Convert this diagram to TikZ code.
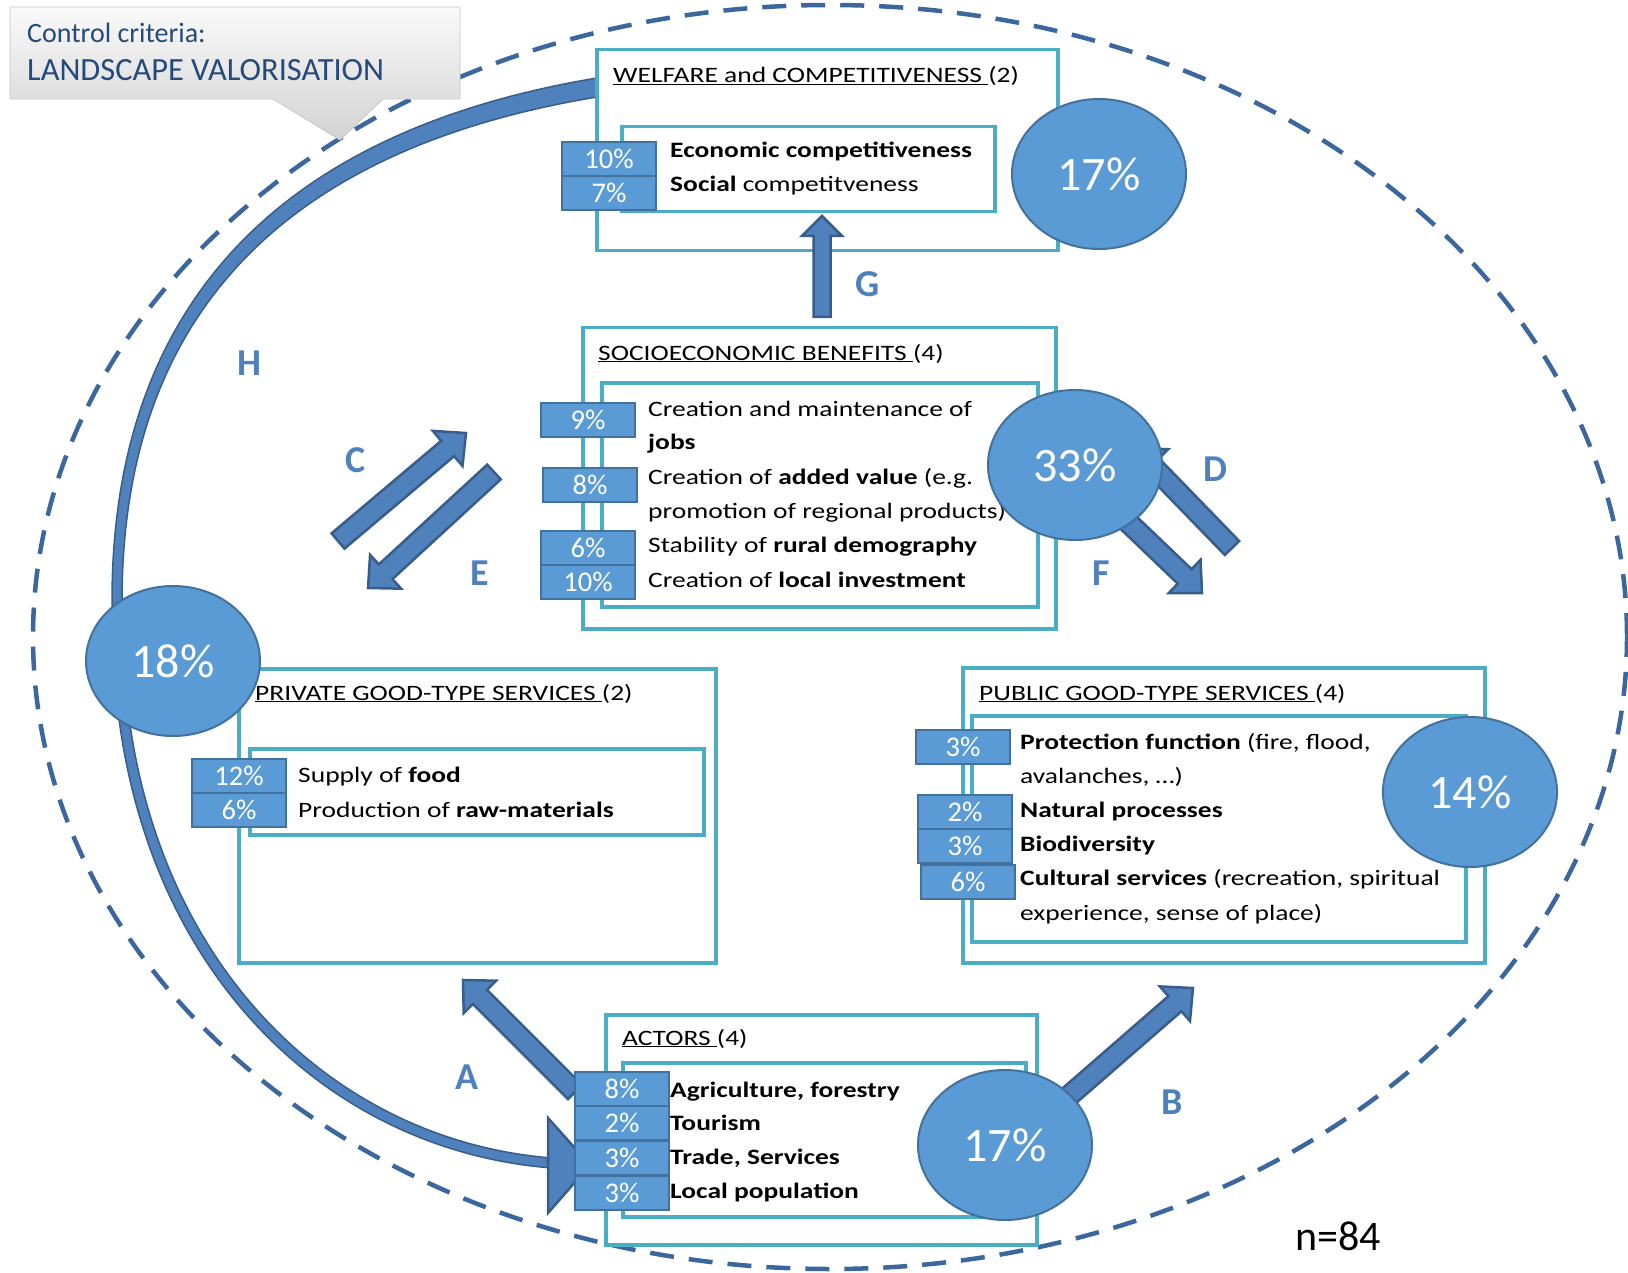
\documentclass[tikz,border=0pt]{standalone}
\usepackage{fontspec}
\setmainfont{Carlito}
\newfontfamily\widefont{Carlito}[FakeStretch=1.25]
\usetikzlibrary{shapes.geometric,calc}

\definecolor{boxline}{HTML}{4BACC6}
\definecolor{pctfill}{HTML}{5B9BD5}
\definecolor{pctline}{HTML}{41719C}
\definecolor{arrowfill}{HTML}{4F81BD}
\definecolor{arrowline}{HTML}{385D8A}
\definecolor{ringblue}{HTML}{3B679E}
\definecolor{calloutblue}{HTML}{244A7C}

% fat arrow: tail, tip, half shaft, half head, head length
\newcommand\fatarrow[5]{%
  \coordinate (neck) at ($(#2)!#5!(#1)$);
  \draw[fatarrow] ($(#1)!#3!90:(#2)$) -- ($(neck)!#3!90:(#2)$) -- ($(neck)!#4!90:(#2)$)
    -- (#2) -- ($(neck)!#4!-90:(#2)$) -- ($(neck)!#3!-90:(#2)$) -- ($(#1)!#3!-90:(#2)$) -- cycle;}

\begin{document}
\begin{tikzpicture}[x=1pt,y=-1pt,
  outerbox/.style={draw=boxline, line width=3.5pt, fill=white, anchor=north west, inner sep=0pt},
  title/.style={anchor=base west, inner sep=0pt, font=\widefont\fontsize{22}{26}\selectfont},
  item/.style={title},
  pct/.style={draw=pctline, line width=2pt, fill=pctfill, text=white, anchor=north west,
    inner sep=0pt, minimum width=94, minimum height=34, font=\fontsize{28.5}{30}\selectfont},
  bubble/.style={ellipse, draw=pctline, line width=2pt, fill=pctfill, text=white,
    minimum width=174, minimum height=150, inner sep=0pt, font=\fontsize{48}{52}\selectfont},
  letter/.style={text=arrowfill, inner sep=0pt, font=\bfseries\fontsize{38}{42}\selectfont},
  fatarrow/.style={draw=arrowline, fill=arrowfill, line width=2.5pt, line join=miter},
  dashring/.style={draw=ringblue, line width=4.5pt, dash pattern=on 24pt off 15pt},
  callout/.style={top color=gray!4, bottom color=gray!35, draw=gray!45, line width=0.8pt},
  callouttext/.style={anchor=base west, inner sep=0pt, text=calloutblue},
]
\useasboundingbox (0,0) rectangle (1628,1273);

% outer ring
\draw[dashring] (830,637) ellipse [x radius=797pt, y radius=632pt];

% control criteria
\path[callout] (10,7) -- (460,7) -- (460,99) -- (383,99) -- (340,140) -- (273,99) -- (10,99) -- cycle;
\node[callouttext, font=\fontsize{28}{30}\selectfont] (crit) at (27,43) {Control criteria:};
\node[callouttext, font=\fontsize{32.4}{35}\selectfont] (valor) at (27,81) {LANDSCAPE VALORISATION};

% H
\coordinate (Hstart) at (597,88);
\coordinate (Hend) at (552,1163);
\draw[fatarrow, line width=1.5pt] ($(Hstart)+(0,-10)$) .. controls (255,135) and (98,330) .. (113,640)
  .. controls (120,955) and (318,1150) .. ($(Hend)+(0,5)$) -- ($(Hend)+(0,-5)$)
  .. controls (322,1140) and (130,945) .. (123,640)
  .. controls (108,335) and (265,152) .. ($(Hstart)+(0,9)$) -- cycle;
\draw[fatarrow] (Hend) ++(-4,-45) -- ++(42,47) -- ++(-42,48) -- cycle;

% boxes
\node[outerbox, minimum width=461, minimum height=201] (welfare) at (595,48) {};
\node[outerbox, minimum width=373, minimum height=85] (welfarein) at (620,125) {};
\node[outerbox, minimum width=473, minimum height=301] (socio) at (581,326) {};
\node[outerbox, minimum width=436, minimum height=224] (socioin) at (600,381) {};
\node[outerbox, minimum width=477, minimum height=294] (private) at (237,667) {};
\node[outerbox, minimum width=454, minimum height=86] (privatein) at (248,747) {};
\node[outerbox, minimum width=522, minimum height=295] (public) at (961,666) {};
\node[outerbox, minimum width=494, minimum height=226] (publicin) at (970,714) {};
\node[outerbox, minimum width=431, minimum height=230] (actors) at (604,1013) {};
\node[outerbox, minimum width=403, minimum height=154] (actorsin) at (621,1061) {};

% titles
\node[title] (welfaretitle) at (613,83) {\underline{WELFARE and COMPETITIVENESS\ }(2)};
\node[title] (sociotitle) at (598,360) {\underline{SOCIOECONOMIC BENEFITS\ }(4)};
\node[title] (privatetitle) at (255,700) {\underline{PRIVATE GOOD-TYPE SERVICES\ }(2)};
\node[title] (publictitle) at (979,700) {\underline{PUBLIC GOOD-TYPE SERVICES\ }(4)};
\node[title] (actorstitle) at (622,1045) {\underline{ACTORS\ }(4)};

% items
\node[item] (w1t) at (670,158) {\textbf{Economic competitiveness}};
\node[item] (w2t) at (670,192) {\textbf{Social} competitveness};
\node[item] (s1t) at (648,416) {Creation and maintenance of};
\node[item] (s1u) at (648,449) {\textbf{jobs}};
\node[item] (s2t) at (648,484) {Creation of \textbf{added value} (e.g.};
\node[item] (s2u) at (648,518) {promotion of regional products)};
\node[item] (s3t) at (648,552) {Stability of \textbf{rural demography}};
\node[item] (s4t) at (648,587) {Creation of \textbf{local investment}};
\node[item] (p1t) at (298,782) {Supply of \textbf{food}};
\node[item] (p2t) at (298,817) {Production of \textbf{raw-materials}};
\node[item] (q1t) at (1020,749) {\textbf{Protection function} (fire, flood,};
\node[item] (q1u) at (1020,783) {avalanches, …)};
\node[item] (q2t) at (1020,817) {\textbf{Natural processes}};
\node[item] (q3t) at (1020,851) {\textbf{Biodiversity}};
\node[item] (q4t) at (1020,885) {\textbf{Cultural services} (recreation, spiritual};
\node[item] (q4u) at (1020,920) {experience, sense of place)};
\node[item] (a1t) at (670,1097) {\textbf{Agriculture, forestry}};
\node[item] (a2t) at (670,1130) {\textbf{Tourism}};
\node[item] (a3t) at (670,1164) {\textbf{Trade, Services}};
\node[item] (a4t) at (670,1198) {\textbf{Local population}};

% fat arrows
\coordinate (Gtail) at (822,317);  \coordinate (Gtip) at (822,216);
\coordinate (Ctail) at (338,541);  \coordinate (Ctip) at (466,433);
\coordinate (Etail) at (494,472);  \coordinate (Etip) at (368,588);
\coordinate (Dtail) at (1232,548); \coordinate (Dtip) at (1135,448);
\coordinate (Ftail) at (1110,505); \coordinate (Ftip) at (1202,593);
\coordinate (Atail) at (575,1092); \coordinate (Atip) at (463,980);
\coordinate (Btail) at (1062,1102); \coordinate (Btip) at (1193,988);
\fatarrow{Gtail}{Gtip}{8.5pt}{20pt}{20pt}
\fatarrow{Ctail}{Ctip}{10pt}{23pt}{24pt}
\fatarrow{Etail}{Etip}{10pt}{23pt}{24pt}
\fatarrow{Dtail}{Dtip}{10pt}{23pt}{24pt}
\fatarrow{Ftail}{Ftip}{10pt}{23pt}{24pt}
\fatarrow{Atail}{Atip}{10pt}{23pt}{24pt}
\fatarrow{Btail}{Btip}{10pt}{23pt}{24pt}

% percentages
\node[pct] (w1) at (561,141) {10\%};
\node[pct] (w2) at (561,175) {7\%};
\node[pct] (s1) at (540,402) {9\%};
\node[pct] (s2) at (542,467) {8\%};
\node[pct] (s3) at (540,530) {6\%};
\node[pct] (s4) at (540,564) {10\%};
\node[pct] (p1) at (191,758) {12\%};
\node[pct] (p2) at (191,792) {6\%};
\node[pct] (q1) at (915,729) {3\%};
\node[pct] (q2) at (917,794) {2\%};
\node[pct] (q3) at (917,828) {3\%};
\node[pct] (q4) at (920,864) {6\%};
\node[pct] (a1) at (574,1071) {8\%};
\node[pct] (a2) at (574,1105) {2\%};
\node[pct] (a3) at (574,1140) {3\%};
\node[pct] (a4) at (574,1175) {3\%};

\node[bubble] (bw) at (1099,174) {17\%};
\node[bubble] (bs) at (1075,465) {33\%};
\node[bubble] (bp) at (173,661) {18\%};
\node[bubble] (bq) at (1470,792) {14\%};
\node[bubble] (ba) at (1005,1145) {17\%};

% letters
\node[letter] (lH) at (249,363) {H};
\node[letter] (lC) at (356,460) {C};
\node[letter] (lE) at (480,573) {E};
\node[letter] (lD) at (1215,469) {D};
\node[letter] (lF) at (1101,573) {F};
\node[letter] (lG) at (868,284) {G};
\node[letter] (lA) at (467,1077) {A};
\node[letter] (lB) at (1172,1102) {B};

\node[anchor=base west, inner sep=0pt, font=\fontsize{42}{46}\selectfont] (n) at (1295,1250) {n=84};
\end{tikzpicture}
\end{document}
